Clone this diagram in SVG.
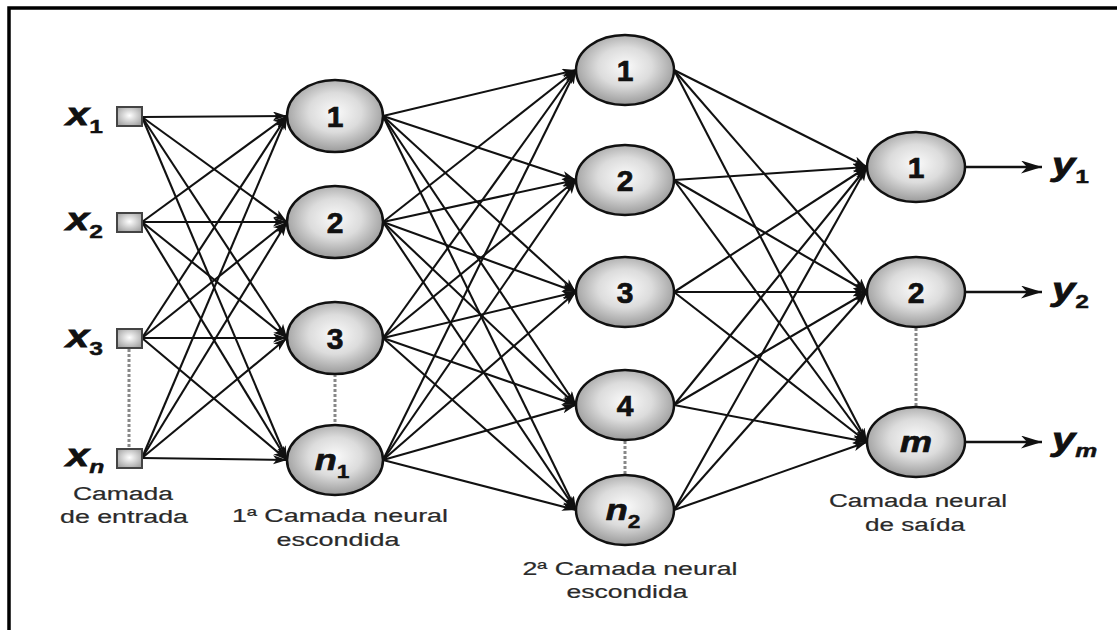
<svg xmlns="http://www.w3.org/2000/svg" width="1117" height="630" viewBox="0 0 1117 630">
<style>
.frame{fill:none;stroke:#000;stroke-width:3.5}
.node{stroke:#111;stroke-width:2.5;fill:url(#ng)}
.inp{stroke:#444;stroke-width:2;fill:url(#sg)}
.edge{stroke:#111;stroke-width:2.1;fill:none;marker-end:url(#ah)}
.out{stroke:#111;stroke-width:2.5;fill:none;marker-end:url(#ahb)}
.dots{stroke:#888;stroke-width:3;stroke-dasharray:3 2;fill:none}
.num{font-family:"Liberation Sans",Arial,sans-serif;font-weight:bold;font-size:30px;fill:#111;stroke:#111;stroke-width:0.7;text-anchor:middle}
.var{font-family:"Liberation Sans",Arial,sans-serif;font-weight:bold;font-style:italic;font-size:32px;fill:#111;stroke:#111;stroke-width:0.8}
.sub{font-size:19px;font-style:normal;stroke-width:0.4}
.subi{font-size:19px;font-style:italic;stroke-width:0.5}
.lbl{font-family:"Liberation Sans",Arial,sans-serif;font-size:18px;fill:#2a2a2a;stroke:#2a2a2a;stroke-width:0.2;text-anchor:middle}
</style>
<defs>
<radialGradient id="ng" cx="50%" cy="45%" r="55%">
<stop offset="0" stop-color="#fafafa"/>
<stop offset="0.5" stop-color="#dcdcdc"/>
<stop offset="1" stop-color="#9a9a9a"/>
</radialGradient>
<radialGradient id="sg" cx="50%" cy="45%" r="60%">
<stop offset="0" stop-color="#ffffff"/>
<stop offset="1" stop-color="#a5a5a5"/>
</radialGradient>
<marker id="ah" markerUnits="userSpaceOnUse" markerWidth="15" markerHeight="10" refX="14" refY="4.5" orient="auto">
<path d="M0,0 L14,4.5 L0,9 L3.5,4.5 Z" fill="#111"/>
</marker>
<marker id="ahb" markerUnits="userSpaceOnUse" markerWidth="22" markerHeight="14" refX="21" refY="6.5" orient="auto">
<path d="M0,0 L21,6.5 L0,13 L6,6.5 Z" fill="#111"/>
</marker>
</defs>
<rect width="1117" height="630" fill="#fff"/>
<path class="frame" d="M9,630 V8 H1117"/>

<g id="connectors">
<line class="edge" x1="142" y1="117" x2="287" y2="116"/>
<line class="edge" x1="142" y1="117" x2="287" y2="222"/>
<line class="edge" x1="142" y1="117" x2="287" y2="338"/>
<line class="edge" x1="142" y1="117" x2="287" y2="460"/>
<line class="edge" x1="142" y1="222" x2="287" y2="116"/>
<line class="edge" x1="142" y1="222" x2="287" y2="222"/>
<line class="edge" x1="142" y1="222" x2="287" y2="338"/>
<line class="edge" x1="142" y1="222" x2="287" y2="460"/>
<line class="edge" x1="142" y1="338" x2="287" y2="116"/>
<line class="edge" x1="142" y1="338" x2="287" y2="222"/>
<line class="edge" x1="142" y1="338" x2="287" y2="338"/>
<line class="edge" x1="142" y1="338" x2="287" y2="460"/>
<line class="edge" x1="142" y1="458" x2="287" y2="116"/>
<line class="edge" x1="142" y1="458" x2="287" y2="222"/>
<line class="edge" x1="142" y1="458" x2="287" y2="338"/>
<line class="edge" x1="142" y1="458" x2="287" y2="460"/>

<line class="edge" x1="383" y1="116" x2="576" y2="70"/>
<line class="edge" x1="383" y1="116" x2="576" y2="180"/>
<line class="edge" x1="383" y1="116" x2="576" y2="292"/>
<line class="edge" x1="383" y1="116" x2="576" y2="405"/>
<line class="edge" x1="383" y1="116" x2="576" y2="510"/>
<line class="edge" x1="383" y1="222" x2="576" y2="70"/>
<line class="edge" x1="383" y1="222" x2="576" y2="180"/>
<line class="edge" x1="383" y1="222" x2="576" y2="292"/>
<line class="edge" x1="383" y1="222" x2="576" y2="405"/>
<line class="edge" x1="383" y1="222" x2="576" y2="510"/>
<line class="edge" x1="383" y1="338" x2="576" y2="70"/>
<line class="edge" x1="383" y1="338" x2="576" y2="180"/>
<line class="edge" x1="383" y1="338" x2="576" y2="292"/>
<line class="edge" x1="383" y1="338" x2="576" y2="405"/>
<line class="edge" x1="383" y1="338" x2="576" y2="510"/>
<line class="edge" x1="383" y1="460" x2="576" y2="70"/>
<line class="edge" x1="383" y1="460" x2="576" y2="180"/>
<line class="edge" x1="383" y1="460" x2="576" y2="292"/>
<line class="edge" x1="383" y1="460" x2="576" y2="405"/>
<line class="edge" x1="383" y1="460" x2="576" y2="510"/>

<line class="edge" x1="674" y1="70" x2="867" y2="167"/>
<line class="edge" x1="674" y1="70" x2="867" y2="292"/>
<line class="edge" x1="674" y1="70" x2="867" y2="442"/>
<line class="edge" x1="674" y1="180" x2="867" y2="167"/>
<line class="edge" x1="674" y1="180" x2="867" y2="292"/>
<line class="edge" x1="674" y1="180" x2="867" y2="442"/>
<line class="edge" x1="674" y1="292" x2="867" y2="167"/>
<line class="edge" x1="674" y1="292" x2="867" y2="292"/>
<line class="edge" x1="674" y1="292" x2="867" y2="442"/>
<line class="edge" x1="674" y1="405" x2="867" y2="167"/>
<line class="edge" x1="674" y1="405" x2="867" y2="292"/>
<line class="edge" x1="674" y1="405" x2="867" y2="442"/>
<line class="edge" x1="674" y1="510" x2="867" y2="167"/>
<line class="edge" x1="674" y1="510" x2="867" y2="292"/>
<line class="edge" x1="674" y1="510" x2="867" y2="442"/>

<line class="out" x1="965" y1="167" x2="1042" y2="167"/>
<line class="out" x1="965" y1="292" x2="1042" y2="292"/>
<line class="out" x1="965" y1="442" x2="1042" y2="442"/>

<line class="dots" x1="129" y1="349" x2="129" y2="448"/>
<line class="dots" x1="335" y1="374" x2="335" y2="425"/>
<line class="dots" x1="625" y1="441" x2="625" y2="475"/>
<line class="dots" x1="916" y1="328" x2="916" y2="407"/>
</g>

<g id="in1"><rect class="inp" x="117" y="107" width="25" height="19"/><text class="var" transform="translate(66,125) scale(1.3,1)">x<tspan class="sub" dy="8">1</tspan></text></g>
<g id="in2"><rect class="inp" x="117" y="213" width="25" height="19"/><text class="var" transform="translate(66,230) scale(1.3,1)">x<tspan class="sub" dy="8">2</tspan></text></g>
<g id="in3"><rect class="inp" x="117" y="329" width="25" height="19"/><text class="var" transform="translate(66,347) scale(1.3,1)">x<tspan class="sub" dy="8">3</tspan></text></g>
<g id="inn"><rect class="inp" x="117" y="449" width="25" height="19"/><text class="var" transform="translate(66,466) scale(1.3,1)">x<tspan class="subi" dy="7">n</tspan></text></g>

<g id="h1_1"><ellipse class="node" cx="335" cy="116" rx="48" ry="36"/><text class="num" x="335" y="127">1</text></g>
<g id="h1_2"><ellipse class="node" cx="335" cy="222" rx="48" ry="36"/><text class="num" x="335" y="233">2</text></g>
<g id="h1_3"><ellipse class="node" cx="335" cy="338" rx="48" ry="36"/><text class="num" x="335" y="349">3</text></g>
<g id="h1_n"><ellipse class="node" cx="335" cy="460" rx="48" ry="35"/><text class="num" x="332" y="470" font-style="italic" transform="translate(332,0) scale(1.2,1) translate(-332,0)">n<tspan font-size="19" font-style="normal" stroke-width="0.4" dy="8">1</tspan></text></g>

<g id="h2_1"><ellipse class="node" cx="625" cy="70" rx="49" ry="35"/><text class="num" x="625" y="81">1</text></g>
<g id="h2_2"><ellipse class="node" cx="625" cy="180" rx="49" ry="35"/><text class="num" x="625" y="191">2</text></g>
<g id="h2_3"><ellipse class="node" cx="625" cy="292" rx="49" ry="35"/><text class="num" x="625" y="303">3</text></g>
<g id="h2_4"><ellipse class="node" cx="625" cy="405" rx="49" ry="35"/><text class="num" x="625" y="416">4</text></g>
<g id="h2_n"><ellipse class="node" cx="625" cy="510" rx="49" ry="35"/><text class="num" x="623" y="520" font-style="italic" transform="translate(623,0) scale(1.2,1) translate(-623,0)">n<tspan font-size="19" font-style="normal" stroke-width="0.4" dy="8">2</tspan></text></g>

<g id="o_1"><ellipse class="node" cx="916" cy="167" rx="49" ry="35"/><text class="num" x="916" y="178">1</text></g>
<g id="o_2"><ellipse class="node" cx="916" cy="292" rx="49" ry="35"/><text class="num" x="916" y="303">2</text></g>
<g id="o_m"><ellipse class="node" cx="916" cy="442" rx="49" ry="35"/><text class="num" x="916" y="452" font-style="italic" transform="translate(916,0) scale(1.2,1) translate(-916,0)">m</text></g>

<g id="y1"><text class="var" transform="translate(1052,175) scale(1.3,1)">y<tspan class="sub" dy="8">1</tspan></text></g>
<g id="y2"><text class="var" transform="translate(1052,300) scale(1.3,1)">y<tspan class="sub" dy="8">2</tspan></text></g>
<g id="ym"><text class="var" transform="translate(1052,450) scale(1.3,1)">y<tspan class="subi" dy="7">m</tspan></text></g>

<g id="labels">
<text class="lbl" x="123" y="500" textLength="100" lengthAdjust="spacingAndGlyphs">Camada</text>
<text class="lbl" x="124" y="523" textLength="128" lengthAdjust="spacingAndGlyphs">de entrada</text>
<text class="lbl" x="340" y="522" textLength="216" lengthAdjust="spacingAndGlyphs">1ª Camada neural</text>
<text class="lbl" x="338" y="546" textLength="123" lengthAdjust="spacingAndGlyphs">escondida</text>
<text class="lbl" x="630" y="575" textLength="215" lengthAdjust="spacingAndGlyphs">2ª Camada neural</text>
<text class="lbl" x="627" y="598" textLength="121" lengthAdjust="spacingAndGlyphs">escondida</text>
<text class="lbl" x="918" y="507" textLength="178" lengthAdjust="spacingAndGlyphs">Camada neural</text>
<text class="lbl" x="915" y="531" textLength="100" lengthAdjust="spacingAndGlyphs">de saída</text>
</g>
</svg>
